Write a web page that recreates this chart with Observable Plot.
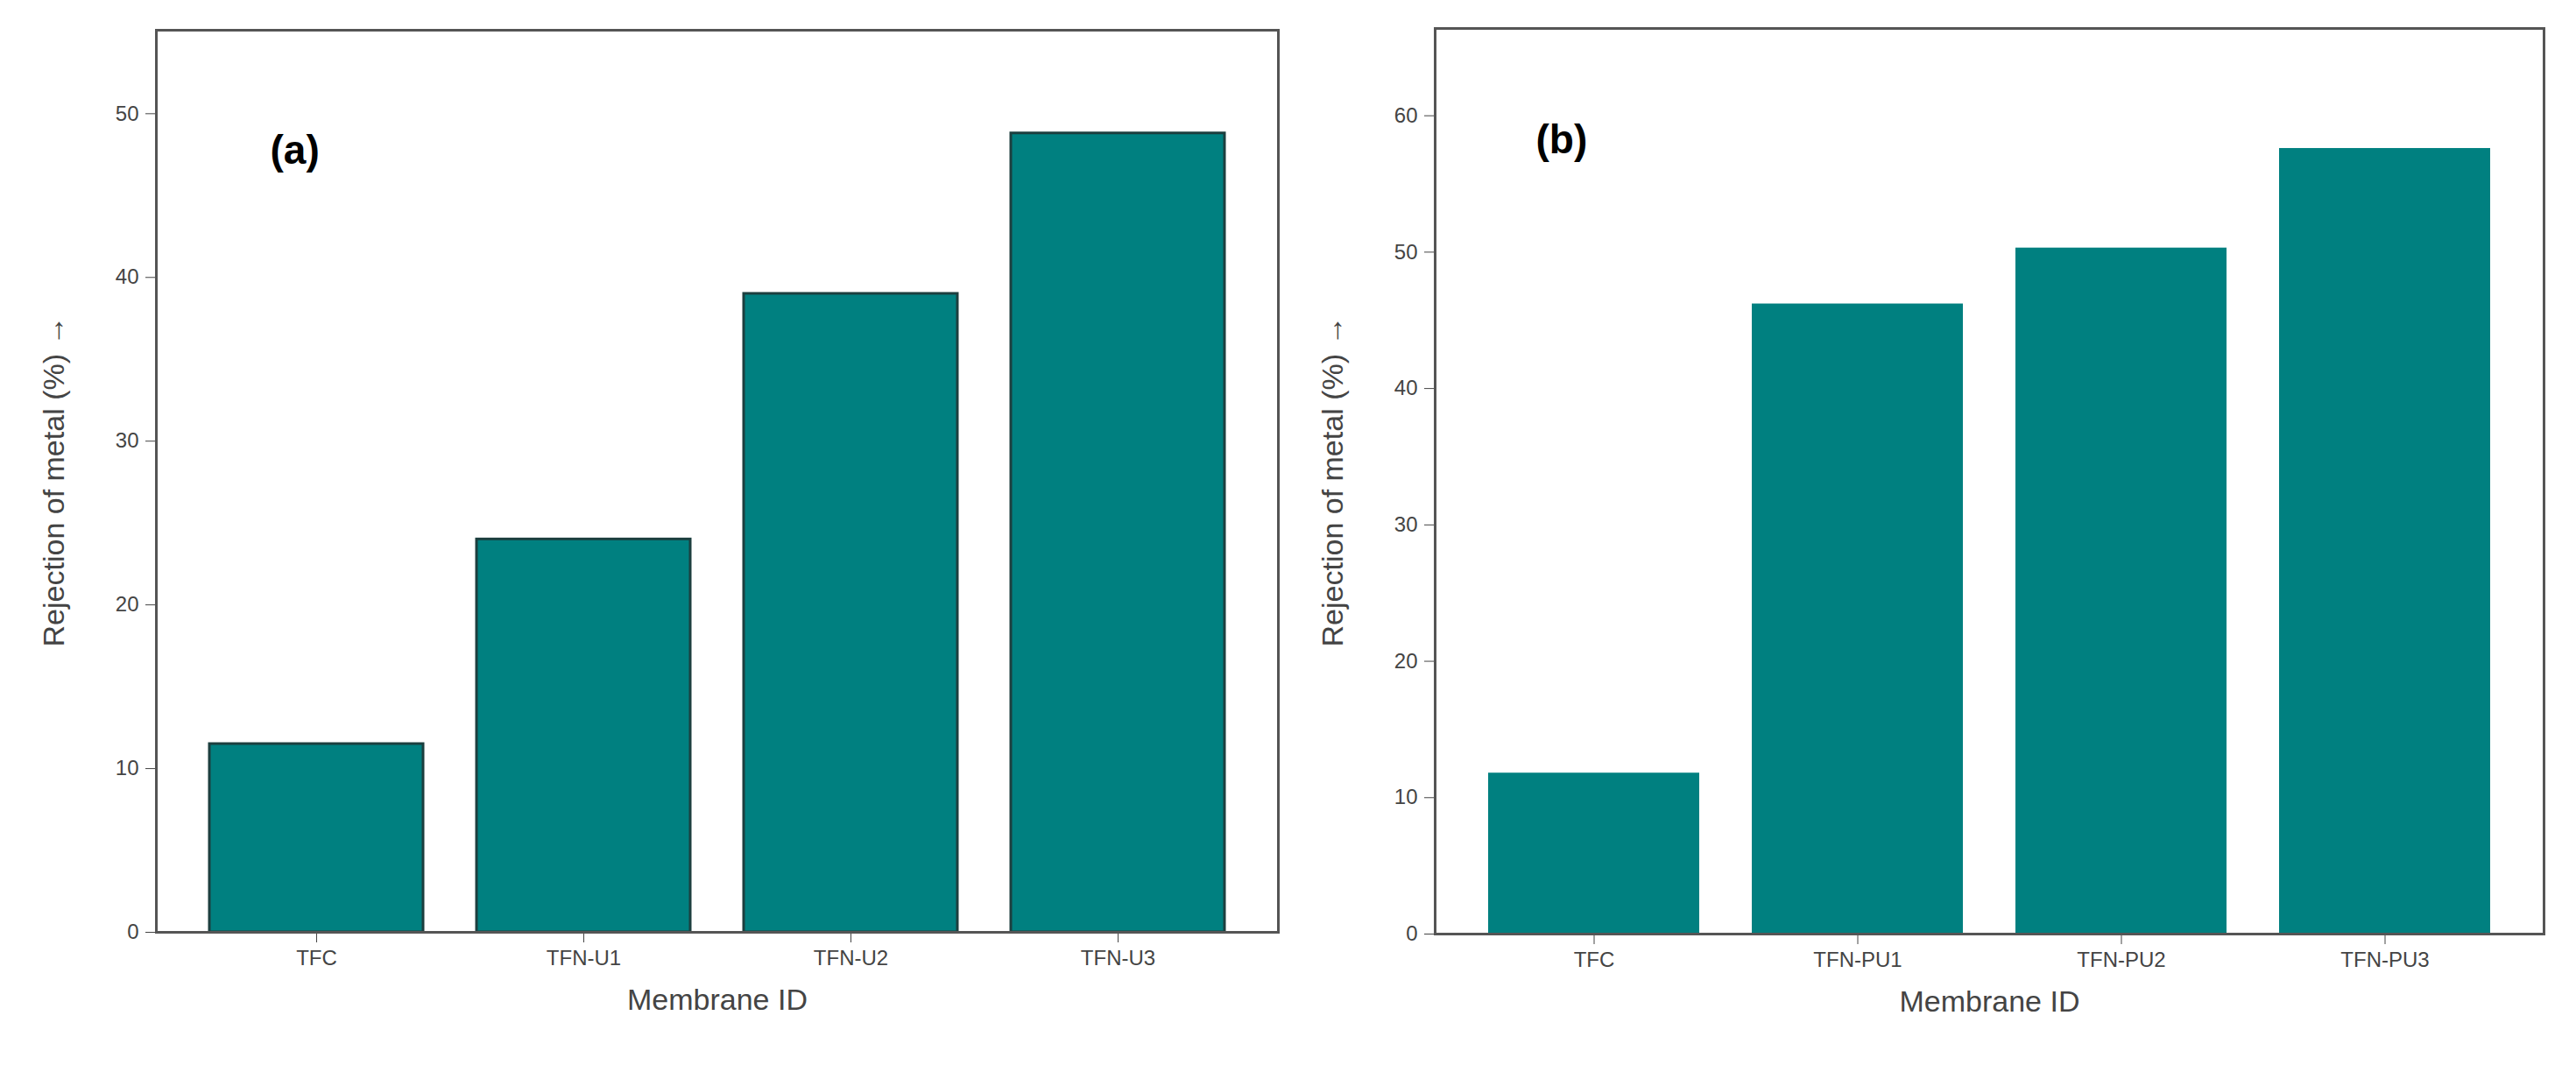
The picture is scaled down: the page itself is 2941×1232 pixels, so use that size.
<!DOCTYPE html>
<html><head><meta charset="utf-8">
<script src="https://cdn.jsdelivr.net/npm/d3@7"></script>
<script src="https://cdn.jsdelivr.net/npm/@observablehq/plot@0.6"></script>
<style>
body{margin:0;background:#fff;width:2941px;height:1232px;position:relative;overflow:hidden;font-family:Arial,"Liberation Sans",sans-serif}
#a{position:absolute;left:0;top:0}#b{position:absolute;left:1470px;top:0}
</style></head><body>
<div id="a"></div><div id="b"></div>
<script>
const catsA = ["TFC","TFN-U1","TFN-U2","TFN-U3"];
const valsA = [11.5, 24.0, 39.0, 48.8];
const catsB = ["TFC","TFN-PU1","TFN-PU2","TFN-PU3"];
const valsB = [11.8, 46.2, 50.3, 57.6];
const ticksA = [0,10,20,30,40,50];
const ticksB = [0,10,20,30,40,50,60];

function panel(cats, vals, ticks, ymax, label, m, w, outline){
  const data = cats.map((c,i)=>({c, v: vals[i]}));
  return Plot.plot({
    width: w, height: 1232,
    marginLeft: m[0], marginRight: m[1], marginTop: m[2], marginBottom: m[3],
    style: {fontFamily: "Arial, 'Liberation Sans', sans-serif", fontSize: "24px", color: "#444", background: "white"},
    x: {domain: cats, padding: 0.2, label: "Membrane ID", labelAnchor: "center", labelOffset: 88, tickSize: 12, tickPadding: 8},
    y: {domain: [0, ymax], ticks: ticks, label: "Rejection of metal (%)", labelAnchor: "center", labelOffset: 130, tickSize: 12, tickPadding: 8},
    marks: [
      Plot.barY(data, {x: "c", y: "v", fill: "#008080", stroke: outline ? "#1c3f3f" : "none", strokeWidth: 3}),
      Plot.frame({stroke: "#555", strokeWidth: 3}),
      Plot.text([label], {frameAnchor: "top-left", dx: m[4], dy: m[5], text: d=>d, fontSize: 46, fontWeight: "bold", fill: "#000"})
    ]
  });
}
const a = panel(catsA, valsA, ticksA, 55.1, "(a)", [178, 11, 34, 168, 130, 120], 1470, true);
const b = panel(catsB, valsB, ticksB, 66.4, "(b)", [168, 37, 32, 166, 115, 110], 1471, false);
for (const [s] of [[a],[b]]) {
  s.querySelectorAll("[aria-label='x-axis label'] text, [aria-label='y-axis label'] text").forEach(t=>{t.style.fontSize="34px";t.setAttribute("fill","#444");});
}
document.getElementById("a").append(a);
document.getElementById("b").append(b);
</script></body></html>
